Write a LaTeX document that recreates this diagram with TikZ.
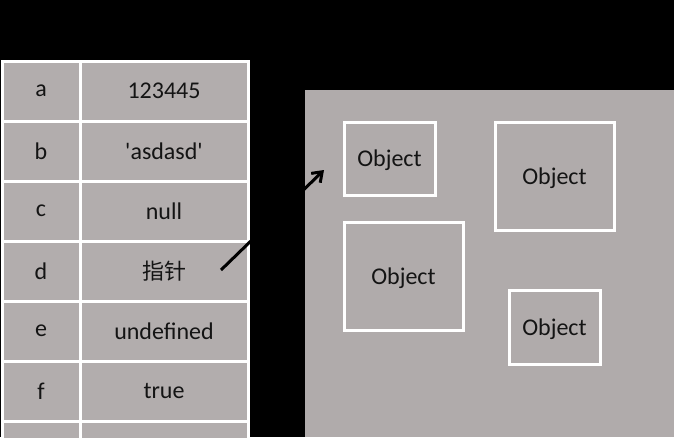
\documentclass[tikz,border=0pt]{standalone}
\usepackage{fontspec}
\setmainfont{Carlito}
\newfontfamily\cjk{Noto Sans CJK SC}
\usepackage{tikz}
\usetikzlibrary{arrows.meta, positioning}
\definecolor{cellgray}{RGB}{178,173,173}
\definecolor{heapgray}{RGB}{176,171,171}
\definecolor{ink}{RGB}{20,20,20}
\tikzset{
  keycell/.style={rectangle, draw=white, line width=3pt, fill=cellgray,
    minimum width=78pt, minimum height=60pt, inner sep=0pt, outer sep=0pt,
    text=ink, font=\fontsize{24}{27}\selectfont},
  valcell/.style={keycell, minimum width=168pt},
  heaparea/.style={rectangle, fill=heapgray, minimum width=369pt,
    minimum height=347pt, inner sep=0pt, outer sep=0pt},
  objbox/.style={rectangle, draw=white, line width=3pt, fill=heapgray,
    inner sep=0pt, text depth=0pt, text=ink, font=\fontsize{24}{27}\selectfont},
  ptrarrow/.style={-{Straight Barb[length=9pt, width=13pt, line width=3pt]},
    line width=3pt, color=black},
}
\begin{document}
\begin{tikzpicture}[x=1pt, y=-1pt]
  \fill[black] (0,0) rectangle (674,437);
  \clip (0,0) rectangle (674,437);

  % stack: variable table
  \node[keycell, anchor=north west] (ka) at (2,61) {a};
  \node[valcell, right=0pt of ka]   (va) {123445};
  \node[keycell, below=0pt of ka]   (kb) {b};
  \node[valcell, right=0pt of kb]   (vb) {\textquotesingle asdasd\textquotesingle};
  \node[keycell, below=0pt of kb]   (kc) {c};
  \node[valcell, right=0pt of kc]   (vc) {null};
  \node[keycell, below=0pt of kc]   (kd) {d};
  \node[valcell, right=0pt of kd]   (vd) {\cjk\fontsize{22}{25}\selectfont 指针};
  \node[keycell, below=0pt of kd]   (ke) {e};
  \node[valcell, right=0pt of ke]   (ve) {undefined};
  \node[keycell, below=0pt of ke]   (kf) {f};
  \node[valcell, right=0pt of kf]   (vf) {true};
  \node[keycell, below=0pt of kf]   (kg) {};
  \node[valcell, right=0pt of kg]   (vg) {};

  % heap
  \node[heaparea, anchor=north west] (heap) at (305,90) {};
  \node[objbox, minimum width=91pt,  minimum height=73pt]  (obj1) at (389.5,158.5) {Object};
  \node[objbox, minimum width=119pt, minimum height=108pt] (obj2) at (554.5,176)   {Object};
  \node[objbox, minimum width=119pt, minimum height=108pt] (obj3) at (403.5,276)   {Object};
  \node[objbox, minimum width=91pt,  minimum height=74pt]  (obj4) at (554.5,327)   {Object};

  \coordinate (ptr)    at (221,270);
  \coordinate (heapin) at (324,170);
  \draw[ptrarrow] (ptr) -- (heapin);
\end{tikzpicture}
\end{document}
